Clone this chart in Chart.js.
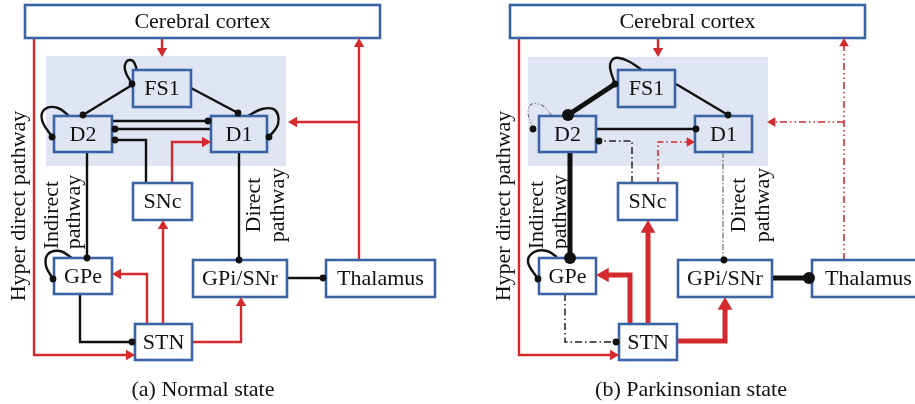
<!DOCTYPE html>
<html><head><meta charset="utf-8">
<style>html,body{margin:0;padding:0;background:#fff;overflow:hidden}</style>
<script src="https://cdn.jsdelivr.net/npm/chart.js@4.4.0/dist/chart.umd.min.js"></script>
</head><body>
<canvas id="c" width="915" height="404"></canvas>
<script>
// ---------- data ----------
const boxLabels = ['Cerebral cortex','FS1','D2','D1','SNc','GPe','STN','GPi/SNr','Thalamus'];
const boxWhite  = [true,false,false,false,true,true,true,true,true];
const boxesA = [[25,5,380,38],[133,70,191,107],[54,116,112,152],[211,116,267,152],[133,183,192,220],[54,258,112,294],[135,324,192,360],[193,260,287,297],[326,260,435,297]];
const boxesB = [[510,5,865,38],[618,70,675,107],[539,116,596,152],[695,116,752,152],[618,183,677,220],[539,258,596,294],[619,324,677,360],[678,260,772,297],[812,260,925,297]];
const shadedA = [46,56,286,166];
const shadedB = [528,57,768,166];

const edgesA = [
  {pts:[[162,38],[162,51]], s:'red'},
  {pts:[[137,70],[133,61],[127,61],[125,70],[132,84]], s:'blk', t:0.4},
  {pts:[[70,117],[58,108],[45,109],[42,120],[52,137]], s:'blk', t:0.4},
  {pts:[[248,116],[262,109],[275,110],[278,124],[269,137]], s:'blk', t:0.4},
  {pts:[[83,115],[132,85]], s:'blk'},
  {pts:[[191,88],[238,113]], s:'blk'},
  {pts:[[112,121],[210,121]], s:'blk'},
  {pts:[[113,129],[211,129]], s:'blk'},
  {pts:[[146,183],[146,140],[113,140]], s:'blk'},
  {pts:[[172,183],[172,142],[205,142]], s:'red'},
  {pts:[[87,152],[87,258]], s:'blk'},
  {pts:[[239,152],[239,260]], s:'blk'},
  {pts:[[72,258],[60,251],[48,254],[46,266],[53,279]], s:'blk', t:0.4},
  {pts:[[80,294],[80,342],[133,342]], s:'blk'},
  {pts:[[147,324],[147,274],[118,274]], s:'red'},
  {pts:[[163,324],[163,226]], s:'red'},
  {pts:[[192,342],[241,342],[241,303]], s:'red'},
  {pts:[[34,38],[34,355],[129,355]], s:'red'},
  {pts:[[287,278],[324,278]], s:'blk'},
  {pts:[[359,260],[359,44]], s:'red'},
  {pts:[[359,122],[294,122]], s:'red'}
];
const edgesB = [
  {pts:[[658,38],[658,51]], s:'red'},
  {pts:[[642,70],[628,61],[615,58],[610,66],[615,84]], s:'blk', t:0.4},
  {pts:[[552,116],[543,106],[532,104],[528,112],[533,128]], s:'grayDD', t:0.4},
  {pts:[[615,84],[568,115]], s:'blkThick'},
  {pts:[[676,84],[728,115]], s:'blk'},
  {pts:[[596,129],[695,129]], s:'blk'},
  {pts:[[632,183],[632,141],[599,141]], s:'blkDD'},
  {pts:[[658,183],[658,142],[690,142]], s:'redDD'},
  {pts:[[570,152],[570,258]], s:'blkThick'},
  {pts:[[723,152],[723,260]], s:'grayD'},
  {pts:[[557,257],[547,251],[534,252],[528,262],[538,279]], s:'blk', t:0.4},
  {pts:[[565,294],[565,342],[616,342]], s:'blkDD'},
  {pts:[[630,324],[630,275],[605,275]], s:'redThick'},
  {pts:[[648,324],[648,232]], s:'redThick'},
  {pts:[[677,341],[725,341],[725,309]], s:'redThick'},
  {pts:[[519,38],[519,355],[613,355]], s:'red'},
  {pts:[[772,278],[809,278]], s:'blkThick'},
  {pts:[[844,260],[844,44]], s:'redDDD'},
  {pts:[[844,122],[772,122]], s:'redDDD'}
];
// arrow tips: x, y, direction, size
const arrowsA = [[162,57,'down',6],[211,142,'right',6],[112,274,'left',6],[163,220,'up',6],[241,297,'up',6],[135,355,'right',6],[359,38,'up',6],[288,122,'left',6]];
const arrowsB = [[658,57,'down',6],[695,142,'right',5.5],[596,275,'left',8.5],[648,220,'up',8.5],[725,297,'up',8.5],[619,355,'right',6],[844,38,'up',5.5],[767,122,'left',5.5]];
const dotsSmall = [[132,84],[52,137],[269,137],[83,115],[238,113],[208,121],[115,129],[115,140],[87,258],[239,260],[53,279],[132,342],[323,278],
                   [615,84],[533,129],[728,115],[696,129],[599,141],[724,260],[538,279],[616,342]];
const dotsBig = [[568,115],[570,258],[809,278]];

const rotLabels = [['Hyper direct pathway',18,206],['Indirect',51,215],['pathway',73,212],['Direct',253,205],['pathway',277,205],
                   ['Hyper direct pathway',503,206],['Indirect',536,215],['pathway',559,212],['Direct',738,205],['pathway',762,205]];
const captions = [['(a) Normal state',203,390],['(b) Parkinsonian state',691,390]];

// ---------- styles ----------
const RED = '#d42a2e', BLK = '#111';
const STY = {
  blk:{c:BLK,w:2.4}, blkThick:{c:BLK,w:5},
  blkDD:{c:'#222',w:1.5,d:[7,3,1.5,3]},
  grayDD:{c:'#777',w:1.2,d:[4,2,1,2,1,2]},
  grayD:{c:'#777',w:1.3,d:[6,2,1.5,2]},
  red:{c:RED,w:2.4}, redThick:{c:RED,w:5},
  redDD:{c:RED,w:1.6,d:[6,3,1.5,3]},
  redDDD:{c:RED,w:1.6,d:[7,3,1.5,3,1.5,3]}
};
const DIR = {up:[0,-1,0],down:[0,1,180],right:[1,0,90],left:[-1,0,270]};
const FONT = '"Liberation Serif","Times New Roman",serif';

function edgeDS(e){const s=STY[e.s];return {type:'scatter',data:e.pts.map(p=>({x:p[0],y:p[1]})),showLine:true,borderColor:s.c,borderWidth:s.w,borderDash:s.d||[],pointRadius:0,pointHoverRadius:0,tension:e.t||0,fill:false,borderCapStyle:'butt',borderJoinStyle:'miter',clip:false};}
function arrowDS(list){return {data:list.map(a=>({x:a[0]-DIR[a[2]][0]*a[3],y:a[1]-DIR[a[2]][1]*a[3]})),pointStyle:'triangle',pointRotation:list.map(a=>DIR[a[2]][2]),pointRadius:list.map(a=>a[3]),pointHoverRadius:list.map(a=>a[3]),pointBackgroundColor:RED,pointBorderWidth:0,showLine:false,clip:false};}
function dotDS(list,r){return {data:list.map(p=>({x:p[0],y:p[1]})),pointStyle:'circle',pointRadius:r,pointHoverRadius:r,pointBackgroundColor:BLK,pointBorderWidth:0,showLine:false,clip:false};}

const edgeSets = edgesA.concat(edgesB).map(edgeDS);
const datasets = [arrowDS(arrowsA),arrowDS(arrowsB),dotDS(dotsSmall,3.4),dotDS(dotsBig,6)].concat(edgeSets);
const FIRST_EDGE = 4;

function px(chart,x,y){return [chart.scales.x.getPixelForValue(x),chart.scales.y.getPixelForValue(y)];}
function rectPx(chart,b){const p1=px(chart,b[0],b[1]),p2=px(chart,b[2],b[3]);return [p1[0],p1[1],p2[0]-p1[0],p2[1]-p1[1]];}

const diagramPlugin = {
  id:'diagram',
  beforeDatasetsDraw(chart){
    const ctx=chart.ctx;ctx.save();ctx.fillStyle='#dfe5f2';
    [shadedA,shadedB].forEach(s=>{const r=rectPx(chart,s);ctx.fillRect(r[0],r[1],r[2],r[3]);});
    ctx.restore();
  },
  afterDatasetDraw(chart,args){
    if(args.index!==FIRST_EDGE) return;
    const ctx=chart.ctx;ctx.save();
    [boxesA,boxesB].forEach(list=>list.forEach((b,i)=>{
      const r=rectPx(chart,b);
      ctx.fillStyle=boxWhite[i]?'#ffffff':'#dfe5f2';
      ctx.fillRect(r[0],r[1],r[2],r[3]);
      ctx.lineWidth=2.6;ctx.strokeStyle='#3a64a4';
      ctx.strokeRect(r[0],r[1],r[2],r[3]);
    }));
    ctx.restore();
  },
  afterDatasetsDraw(chart){
    const ctx=chart.ctx;ctx.save();
    ctx.fillStyle='#111';ctx.textAlign='center';ctx.textBaseline='middle';
    ctx.font='22px '+FONT;
    [boxesA,boxesB].forEach(list=>list.forEach((b,i)=>{
      const c=px(chart,(b[0]+b[2])/2,(b[1]+b[3])/2);
      ctx.fillText(boxLabels[i],c[0],c[1]+1);
    }));
    rotLabels.forEach(t=>{
      const c=px(chart,t[1],t[2]);
      ctx.save();ctx.translate(c[0],c[1]);ctx.rotate(-Math.PI/2);ctx.fillText(t[0],0,1);ctx.restore();
    });
    captions.forEach(t=>{const c=px(chart,t[1],t[2]);ctx.fillText(t[0],c[0],c[1]);});
    ctx.restore();
  }
};

new Chart(document.getElementById('c'),{
  type:'scatter',
  data:{datasets},
  options:{
    responsive:false,animation:false,devicePixelRatio:1,events:[],
    layout:{padding:0,autoPadding:false},
    plugins:{legend:{display:false},tooltip:{enabled:false}},
    scales:{
      x:{type:'linear',min:0,max:915,display:false},
      y:{type:'linear',min:0,max:404,reverse:true,display:false}
    }
  },
  plugins:[diagramPlugin]
});
</script>
</body></html>
